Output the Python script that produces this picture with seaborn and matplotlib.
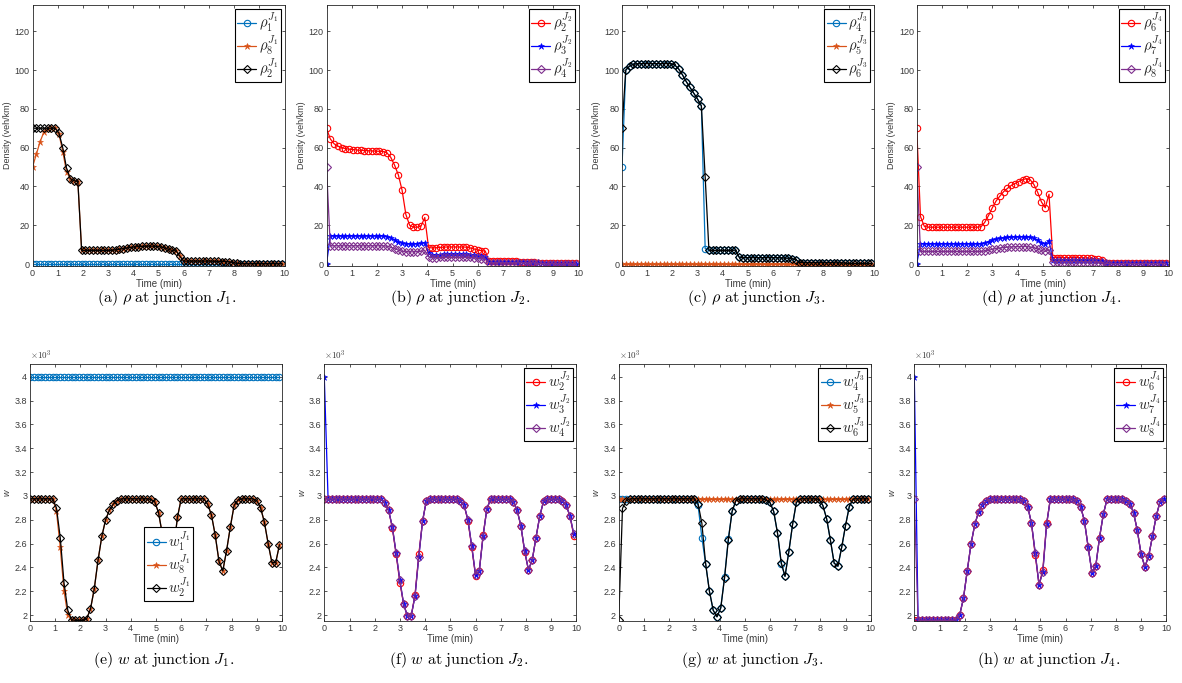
import numpy as np
import matplotlib
matplotlib.use('Agg')
import matplotlib.pyplot as plt
import seaborn as sns
from matplotlib.ticker import FuncFormatter, MultipleLocator

sns.set_theme(style='ticks')
plt.rcParams['font.family'] = ['Liberation Sans', 'DejaVu Sans']
plt.rcParams['mathtext.fontset'] = 'cm'

# ---------------- time grid ----------------
DT = 0.15
N = 67
time_min = np.arange(N) * DT

# ---------------- density, junction J1 ----------------
rho1_J1 = [0.0] * N
rho8_J1 = [50, 56.5, 63, 68, 69.5, 70, 70, 67, 58, 47.5,
           44, 43, 42.5, 7, 7, 7, 7, 7, 7, 7,
           7, 7.1, 7.3, 7.6, 8, 8.3, 8.6, 8.8, 9, 9.1,
           9.2, 9.2, 9.2, 9.1, 8.8, 8.3, 7.6, 7, 6.8, 4,
           1.5, 1.5, 1.5, 1.5, 1.5, 1.5, 1.5, 1.5, 1.4, 1.4,
           1.3, 1.3, 1.2, 0.8, 0.3, 0.2, 0.2, 0.2, 0.2, 0.2,
           0.2, 0.2, 0.2, 0.2, 0.2, 0.2, 0.2]
rho2_J1 = [70, 70, 70, 70, 70, 70, 70, 67.5, 60, 49.5,
           44, 43, 42.5, 7, 7, 7, 7, 7, 7, 7,
           7, 7.1, 7.3, 7.6, 8, 8.3, 8.6, 8.8, 9, 9.1,
           9.2, 9.2, 9.2, 9.1, 8.8, 8.3, 7.6, 7, 6.8, 4,
           1.5, 1.5, 1.5, 1.5, 1.5, 1.5, 1.5, 1.5, 1.4, 1.4,
           1.3, 1.3, 1.2, 0.8, 0.3, 0.2, 0.2, 0.2, 0.2, 0.2,
           0.2, 0.2, 0.2, 0.2, 0.2, 0.2, 0.2]

# ---------------- density, junction J2 ----------------
rho2_J2 = [70, 64.5, 62, 60.8, 60, 59.5, 59.2, 59, 58.8, 58.6,
           58.5, 58.4, 58.3, 58.2, 58.1, 58, 57.3, 55, 51, 46,
           38, 25.5, 20, 19, 19, 19.5, 24, 8.5, 8.3, 8.4,
           8.6, 8.7, 8.8, 8.8, 8.8, 8.8, 8.8, 8.7, 8.3, 7.8,
           7.2, 6.9, 6.7, 1.5, 1.5, 1.5, 1.5, 1.5, 1.4, 1.4,
           1.4, 1.3, 1.3, 1.2, 1.2, 1.1, 0.8, 0.4, 0.3, 0.3,
           0.3, 0.3, 0.3, 0.3, 0.3, 0.3, 0.3]
rho3_J2 = [0, 14.5, 14.5, 14.5, 14.5, 14.5, 14.5, 14.5, 14.5, 14.5,
           14.5, 14.5, 14.5, 14.5, 14.5, 14.5, 14.2, 13.5, 12.5, 11.5,
           10.7, 10.4, 10.4, 10.4, 10.5, 10.6, 11, 5.6, 4.6, 4.7,
           4.8, 5, 5, 5, 5, 5, 5, 5, 4.9, 4.6,
           4.3, 4, 3.8, 1, 1, 1, 1, 1, 1, 1,
           0.9, 0.9, 0.9, 0.8, 0.8, 0.8, 0.6, 0.3, 0.2, 0.2,
           0.2, 0.2, 0.2, 0.2, 0.2, 0.2, 0.2]
rho4_J2 = [50, 9.4, 9.4, 9.4, 9.4, 9.4, 9.4, 9.4, 9.4, 9.4,
           9.4, 9.4, 9.4, 9.4, 9.4, 9.4, 9.2, 8.7, 8, 7.2,
           6.6, 6.3, 6.3, 6.3, 6.4, 6.6, 7, 3.8, 3.2, 3.3,
           3.4, 3.5, 3.5, 3.5, 3.5, 3.5, 3.5, 3.5, 3.4, 3.2,
           3, 2.8, 2.6, 0.6, 0.6, 0.6, 0.6, 0.6, 0.6, 0.6,
           0.6, 0.6, 0.6, 0.6, 0.6, 0.6, 0.4, 0.2, 0.1, 0.1,
           0.1, 0.1, 0.1, 0.1, 0.1, 0.1, 0.1]

# ---------------- density, junction J3 ----------------
rho4_J3 = [50, 100, 102, 103, 103.2, 103.3, 103.3, 103.3, 103.3, 103.3,
           103.3, 103.3, 103.3, 103.3, 102.5, 100.5, 97.5, 94, 91, 88,
           85, 81.5, 8, 7, 7, 7, 7, 7, 7, 7,
           7.2, 3.5, 3.3, 3.3, 3.3, 3.3, 3.3, 3.3, 3.3, 3.3,
           3.3, 3.3, 3.2, 3.1, 3, 2.7, 2.3, 0.8, 0.7, 0.7,
           0.7, 0.7, 0.7, 0.7, 0.7, 0.7, 0.7, 0.6, 0.6, 0.5,
           0.3, 0.3, 0.3, 0.3, 0.3, 0.3, 0.3]
rho5_J3 = [0.0] * N
rho6_J3 = [70, 100, 102, 103, 103.2, 103.3, 103.3, 103.3, 103.3, 103.3,
           103.3, 103.3, 103.3, 103.3, 102.5, 100.5, 97.5, 94, 91, 88,
           85, 81.5, 45, 7, 7, 7, 7, 7, 7, 7,
           7.2, 3.5, 3.3, 3.3, 3.3, 3.3, 3.3, 3.3, 3.3, 3.3,
           3.3, 3.3, 3.2, 3.1, 3, 2.7, 2.3, 0.8, 0.7, 0.7,
           0.7, 0.7, 0.7, 0.7, 0.7, 0.7, 0.7, 0.6, 0.6, 0.5,
           0.3, 0.3, 0.3, 0.3, 0.3, 0.3, 0.3]

# ---------------- density, junction J4 ----------------
rho6_J4 = [70, 24.5, 19.5, 19, 19, 19, 19, 19, 19, 19,
           19, 19, 19, 19, 19, 19, 19, 19.2, 21.5, 25,
           29, 32.5, 35, 37.3, 39, 40.5, 41.5, 42.5, 43.5, 44,
           43.5, 41, 37, 32, 29, 36, 3.3, 3.3, 3.3, 3.3,
           3.3, 3.3, 3.3, 3.3, 3.2, 3.1, 3, 2.8, 2.5, 2.2,
           0.8, 0.5, 0.5, 0.5, 0.5, 0.4, 0.4, 0.4, 0.3, 0.3,
           0.3, 0.3, 0.3, 0.3, 0.3, 0.3, 0.3]
rho7_J4 = [0, 10.5, 10.5, 10.5, 10.5, 10.5, 10.5, 10.5, 10.5, 10.5,
           10.5, 10.5, 10.5, 10.5, 10.5, 10.5, 10.5, 10.5, 10.8, 11.5,
           12.3, 12.8, 13.2, 13.5, 13.7, 13.9, 14, 14, 14.1, 14.1,
           13.8, 13.2, 12.3, 11, 10.4, 12, 2.2, 2.2, 2.2, 2.2,
           2.2, 2.2, 2.2, 2.2, 2.2, 2.1, 2, 1.9, 1.8, 1.5,
           0.5, 0.3, 0.3, 0.3, 0.3, 0.3, 0.3, 0.3, 0.3, 0.3,
           0.3, 0.3, 0.3, 0.3, 0.3, 0.3, 0.3]
rho8_J4 = [50, 6.5, 6.5, 6.5, 6.5, 6.5, 6.5, 6.5, 6.5, 6.5,
           6.5, 6.5, 6.5, 6.5, 6.5, 6.5, 6.5, 6.5, 6.7, 7.1,
           7.6, 8, 8.3, 8.5, 8.7, 8.8, 8.9, 9, 9, 9,
           8.8, 8.4, 7.8, 7, 6.5, 7.5, 1.2, 1.2, 1.2, 1.2,
           1.2, 1.2, 1.2, 1.2, 1.2, 1.2, 1.1, 1.1, 1, 0.9,
           0.3, 0.2, 0.2, 0.2, 0.2, 0.2, 0.2, 0.2, 0.2, 0.2,
           0.2, 0.2, 0.2, 0.2, 0.2, 0.2, 0.2]

# ---------------- w, junction J1 ----------------
w1_J1 = [3995] * N
w8_J1 = [2975, 2975, 2975, 2975, 2975, 2975, 2975, 2870, 2570, 2200,
         2000, 1955, 1955, 1955, 1955, 1970, 2050, 2220, 2460, 2660,
         2800, 2880, 2930, 2960, 2975, 2975, 2975, 2975, 2975, 2975,
         2975, 2975, 2970, 2950, 2860, 2680, 2520, 2450, 2550, 2820,
         2975, 2975, 2975, 2975, 2975, 2975, 2975, 2930, 2840, 2670,
         2450, 2370, 2540, 2740, 2920, 2965, 2975, 2975, 2975, 2975,
         2960, 2900, 2780, 2600, 2440, 2440, 2590]
w2_J1 = [2975, 2975, 2975, 2975, 2975, 2975, 2975, 2900, 2650, 2270,
         2040, 1960, 1955, 1955, 1955, 1970, 2050, 2220, 2460, 2660,
         2800, 2880, 2930, 2960, 2975, 2975, 2975, 2975, 2975, 2975,
         2975, 2975, 2970, 2950, 2860, 2680, 2520, 2450, 2550, 2820,
         2975, 2975, 2975, 2975, 2975, 2975, 2975, 2930, 2840, 2670,
         2450, 2370, 2540, 2740, 2920, 2965, 2975, 2975, 2975, 2975,
         2960, 2900, 2780, 2600, 2440, 2440, 2590]

# ---------------- w, junction J2 ----------------
w2_J2 = [2975, 2975, 2975, 2975, 2975, 2975, 2975, 2975, 2975, 2975,
         2975, 2975, 2975, 2975, 2975, 2975, 2940, 2880, 2730, 2510,
         2270, 2090, 1990, 1995, 2170, 2510, 2790, 2960, 2975, 2975,
         2975, 2975, 2975, 2975, 2975, 2975, 2960, 2920, 2790, 2570,
         2330, 2370, 2670, 2890, 2975, 2975, 2975, 2975, 2975, 2975,
         2950, 2880, 2750, 2530, 2380, 2460, 2650, 2830, 2955, 2975,
         2975, 2975, 2975, 2960, 2920, 2830, 2665]
w3_J2 = [3995, 2975, 2975, 2975, 2975, 2975, 2975, 2975, 2975, 2975,
         2975, 2975, 2975, 2975, 2975, 2975, 2940, 2880, 2740, 2520,
         2290, 2090, 1990, 1995, 2160, 2490, 2790, 2960, 2975, 2975,
         2975, 2975, 2975, 2975, 2975, 2975, 2960, 2920, 2800, 2580,
         2340, 2370, 2660, 2890, 2975, 2975, 2975, 2975, 2975, 2975,
         2950, 2880, 2750, 2540, 2380, 2460, 2650, 2830, 2955, 2975,
         2975, 2975, 2975, 2960, 2920, 2830, 2680]
w4_J2 = [2975, 2975, 2975, 2975, 2975, 2975, 2975, 2975, 2975, 2975,
         2975, 2975, 2975, 2975, 2975, 2975, 2940, 2880, 2740, 2520,
         2290, 2090, 1990, 1995, 2160, 2490, 2790, 2960, 2975, 2975,
         2975, 2975, 2975, 2975, 2975, 2975, 2960, 2920, 2800, 2580,
         2340, 2370, 2660, 2890, 2975, 2975, 2975, 2975, 2975, 2975,
         2950, 2880, 2750, 2540, 2380, 2460, 2650, 2830, 2955, 2975,
         2975, 2975, 2975, 2960, 2920, 2830, 2680]

# ---------------- w, junction J3 ----------------
w4_J3 = [2975, 2975, 2975, 2975, 2975, 2975, 2975, 2975, 2975, 2975,
         2975, 2975, 2975, 2975, 2975, 2975, 2975, 2975, 2975, 2975,
         2975, 2920, 2650, 2430, 2200, 2040, 1985, 2060, 2320, 2640,
         2870, 2960, 2975, 2975, 2975, 2975, 2975, 2975, 2975, 2965,
         2945, 2870, 2690, 2430, 2325, 2530, 2760, 2945, 2975, 2975,
         2975, 2975, 2975, 2970, 2920, 2810, 2630, 2435, 2410, 2570,
         2750, 2910, 2975, 2975, 2975, 2975, 2975]
w5_J3 = [2975] * N
w6_J3 = [1955, 2895, 2960, 2975, 2975, 2975, 2975, 2975, 2975, 2975,
         2975, 2975, 2975, 2975, 2975, 2975, 2975, 2975, 2975, 2975,
         2975, 2935, 2770, 2430, 2200, 2040, 1985, 2060, 2310, 2630,
         2870, 2960, 2975, 2975, 2975, 2975, 2975, 2975, 2975, 2965,
         2945, 2870, 2690, 2440, 2325, 2530, 2760, 2945, 2975, 2975,
         2975, 2975, 2975, 2970, 2920, 2810, 2630, 2435, 2410, 2570,
         2750, 2910, 2975, 2975, 2975, 2975, 2975]

# ---------------- w, junction J4 ----------------
w6_J4 = [1955, 1955, 1955, 1955, 1955, 1955, 1955, 1955, 1955, 1955,
         1955, 1960, 2000, 2140, 2370, 2595, 2760, 2865, 2925, 2955,
         2970, 2975, 2975, 2975, 2975, 2975, 2975, 2975, 2975, 2960,
         2910, 2770, 2500, 2255, 2380, 2770, 2975, 2975, 2975, 2975,
         2975, 2975, 2975, 2960, 2910, 2790, 2570, 2355, 2410, 2650,
         2845, 2975, 2975, 2975, 2975, 2975, 2960, 2935, 2860, 2710,
         2510, 2405, 2495, 2660, 2830, 2950, 2970]
w7_J4 = [4000, 1955, 1955, 1955, 1955, 1955, 1955, 1955, 1955, 1955,
         1955, 1960, 2000, 2140, 2370, 2595, 2760, 2865, 2925, 2955,
         2970, 2975, 2975, 2975, 2975, 2975, 2975, 2975, 2975, 2960,
         2910, 2770, 2520, 2255, 2360, 2760, 2975, 2975, 2975, 2975,
         2975, 2975, 2975, 2960, 2910, 2790, 2570, 2355, 2410, 2650,
         2845, 2975, 2975, 2975, 2975, 2975, 2960, 2935, 2860, 2710,
         2510, 2405, 2495, 2660, 2830, 2950, 2970]
w8_J4 = [2975, 1955, 1955, 1955, 1955, 1955, 1955, 1955, 1955, 1955,
         1955, 1960, 2000, 2140, 2370, 2595, 2760, 2865, 2925, 2955,
         2970, 2975, 2975, 2975, 2975, 2975, 2975, 2975, 2975, 2960,
         2910, 2770, 2520, 2255, 2360, 2760, 2975, 2975, 2975, 2975,
         2975, 2975, 2975, 2960, 2910, 2790, 2570, 2355, 2410, 2650,
         2845, 2975, 2975, 2975, 2975, 2975, 2960, 2935, 2860, 2710,
         2510, 2405, 2495, 2660, 2830, 2950, 2970]

captions = [r'$\mathrm{(a)}\ \rho\ \mathrm{at\ junction}\ J_1.$',
            r'$\mathrm{(b)}\ \rho\ \mathrm{at\ junction}\ J_2.$',
            r'$\mathrm{(c)}\ \rho\ \mathrm{at\ junction}\ J_3.$',
            r'$\mathrm{(d)}\ \rho\ \mathrm{at\ junction}\ J_4.$',
            r'$\mathrm{(e)}\ w\ \mathrm{at\ junction}\ J_1.$',
            r'$\mathrm{(f)}\ w\ \mathrm{at\ junction}\ J_2.$',
            r'$\mathrm{(g)}\ w\ \mathrm{at\ junction}\ J_3.$',
            r'$\mathrm{(h)}\ w\ \mathrm{at\ junction}\ J_4.$']

# ---------------- styles ----------------
C_BLUE = '#0072BD'
C_ORANGE = '#D95319'
C_BLACK = '#000000'
C_RED = '#FF0000'
C_PURE_BLUE = '#0000FF'
C_PURPLE = '#7E2F8E'

panels = [
    [(rho1_J1, r'$\rho_1^{J_1}$', C_BLUE, 'o'),
     (rho8_J1, r'$\rho_8^{J_1}$', C_ORANGE, '*'),
     (rho2_J1, r'$\rho_2^{J_1}$', C_BLACK, 'D')],
    [(rho2_J2, r'$\rho_2^{J_2}$', C_RED, 'o'),
     (rho3_J2, r'$\rho_3^{J_2}$', C_PURE_BLUE, '*'),
     (rho4_J2, r'$\rho_4^{J_2}$', C_PURPLE, 'D')],
    [(rho4_J3, r'$\rho_4^{J_3}$', C_BLUE, 'o'),
     (rho5_J3, r'$\rho_5^{J_3}$', C_ORANGE, '*'),
     (rho6_J3, r'$\rho_6^{J_3}$', C_BLACK, 'D')],
    [(rho6_J4, r'$\rho_6^{J_4}$', C_RED, 'o'),
     (rho7_J4, r'$\rho_7^{J_4}$', C_PURE_BLUE, '*'),
     (rho8_J4, r'$\rho_8^{J_4}$', C_PURPLE, 'D')],
    [(w1_J1, r'$w_1^{J_1}$', C_BLUE, 'o'),
     (w8_J1, r'$w_8^{J_1}$', C_ORANGE, '*'),
     (w2_J1, r'$w_2^{J_1}$', C_BLACK, 'D')],
    [(w2_J2, r'$w_2^{J_2}$', C_RED, 'o'),
     (w3_J2, r'$w_3^{J_2}$', C_PURE_BLUE, '*'),
     (w4_J2, r'$w_4^{J_2}$', C_PURPLE, 'D')],
    [(w4_J3, r'$w_4^{J_3}$', C_BLUE, 'o'),
     (w5_J3, r'$w_5^{J_3}$', C_ORANGE, '*'),
     (w6_J3, r'$w_6^{J_3}$', C_BLACK, 'D')],
    [(w6_J4, r'$w_6^{J_4}$', C_RED, 'o'),
     (w7_J4, r'$w_7^{J_4}$', C_PURE_BLUE, '*'),
     (w8_J4, r'$w_8^{J_4}$', C_PURPLE, 'D')],
]

W, H = 1182, 683
fig = plt.figure(figsize=(W / 100, H / 100), dpi=100)

top_lefts = [32.5, 326.5, 622.0, 916.7]
bot_lefts = [30.0, 324.3, 618.7, 914.3]
ax_w = 252.0
top_y0, top_y1 = 266.0, 5.0
bot_y0, bot_y1 = 621.0, 364.0

TICK_COL = '#3a3a3a'

for i, series in enumerate(panels):
    row, col = divmod(i, 4)
    if row == 0:
        left = top_lefts[col]
        y0, y1 = top_y0, top_y1
    else:
        left = bot_lefts[col]
        y0, y1 = bot_y0, bot_y1
    ax = fig.add_axes([left / W, 1 - y0 / H, ax_w / W, (y0 - y1) / H])
    for vals, lab, colr, mk in series:
        kw = dict(marker=mk, linewidth=0.9, color=colr, markeredgecolor=colr,
                  markeredgewidth=0.8)
        if mk == 'o':
            kw.update(markerfacecolor='none', markersize=4.6)
        elif mk == 'D':
            kw.update(markerfacecolor='none', markersize=3.9)
        else:
            kw.update(markerfacecolor=colr, markersize=4.6, markeredgewidth=0.4)
        sns.lineplot(x=time_min, y=np.asarray(vals, dtype=float), ax=ax,
                     label=lab, errorbar=None, **kw)

    ax.set_xlim(0, 10)
    ax.xaxis.set_major_locator(MultipleLocator(1))
    if row == 0:
        ax.set_ylim(-1.0, 133.5)
        ax.yaxis.set_major_locator(MultipleLocator(20))
        ax.set_ylabel('Density (veh/km)', fontsize=6.5, color=TICK_COL, labelpad=2)
    else:
        ax.set_ylim(1950, 4107)
        ax.yaxis.set_major_locator(MultipleLocator(200))
        ax.yaxis.set_major_formatter(FuncFormatter(lambda v, p: f'{v / 1000:g}'))
        ax.set_ylabel('w', fontsize=6.5, color=TICK_COL, labelpad=2, style='italic')
        ax.text(0.0, 1.008, r'$\times10^{3}$', transform=ax.transAxes,
                fontsize=6.5, color=TICK_COL, ha='left', va='bottom')
    ax.set_xlabel('Time (min)', fontsize=7, color=TICK_COL, labelpad=1)
    ax.tick_params(direction='in', top=True, right=True, length=2.5, width=0.6,
                   labelsize=6.5, colors=TICK_COL, pad=2)
    for sp in ax.spines.values():
        sp.set_linewidth(0.6)
        sp.set_color('#262626')

    leg_kw = dict(fontsize=10.5, frameon=True, fancybox=False, edgecolor='black',
                  framealpha=1, handlelength=1.3, handletextpad=0.2,
                  borderpad=0.15, labelspacing=-0.05)
    if i == 4:
        leg = ax.legend(loc='lower left', bbox_to_anchor=(0.425, 0.05), **leg_kw)
    else:
        leg = ax.legend(loc='upper right', borderaxespad=0.25, **leg_kw)
    leg.get_frame().set_linewidth(0.8)

    cx = (left + ax_w / 2 + 8) / W
    cy = 1 - (298 if row == 0 else 660) / H
    fig.text(cx, cy, captions[i], ha='center', va='center', fontsize=11.5, color='black')

fig.savefig('out.png', dpi=100)
